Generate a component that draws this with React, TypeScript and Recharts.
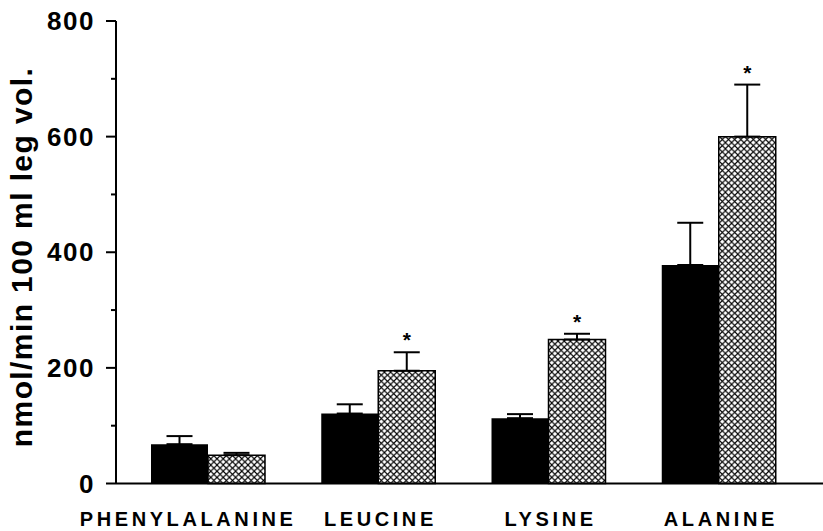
import React from 'react';
import { BarChart, Bar, XAxis, YAxis, ErrorBar, LabelList } from 'recharts';

const categories = ['PHENYLALANINE', 'LEUCINE', 'LYSINE', 'ALANINE'];
const controlValues = [68, 121, 113, 378];
const controlErrors = [14, 16, 7, 73];
const treatedValues = [49, 195, 249, 600];
const treatedErrors = [4, 32, 10, 90];
const significant = [false, true, true, true];
const yTicks = [0, 100, 200, 300, 400, 500, 600, 700, 800];
const yLabel = 'nmol/min 100 ml leg vol.';

const data = categories.map((name, i) => ({
    name,
    control: controlValues[i],
    controlErr: [0, controlErrors[i]],
    treated: treatedValues[i],
    treatedErr: [0, treatedErrors[i]],
}));

const FONT = '"Liberation Sans", Arial, Helvetica, sans-serif';

const YTick = (props: any) => {
    const { x, y, payload } = props;
    const major = payload.value % 200 === 0;
    return (
        <g>
            <line x1={x - (major ? 10 : 5)} x2={x} y1={y} y2={y} stroke="#000" strokeWidth={2} />
            {major && (
                <text x={x - 21} y={y + 9} textAnchor="end" fontFamily={FONT} fontWeight="bold"
                    fontSize={26} letterSpacing={1.5} fill="#000">
                    {payload.value}
                </text>
            )}
        </g>
    );
};

const XTick = (props: any) => {
    const { x, y, payload, index } = props;
    // first label sits a bit left of its bars in the original
    const dx = index === 0 ? -22 : 0;
    return (
        <text x={x + dx + 2} y={y + 42} textAnchor="middle" fontFamily={FONT} fontWeight="bold"
            fontSize={20} letterSpacing={3.6} fill="#000">
            {payload.value}
        </text>
    );
};

const Star = (props: any) => {
    const { x, y, width, height, index } = props;
    if (!significant[index]) return null;
    const errTop = y - (treatedErrors[index] * height) / treatedValues[index];
    return (
        <text x={x + width / 2} y={errTop - 5} textAnchor="middle" fontFamily={FONT}
            fontWeight="bold" fontSize={21} fill="#000">
            *
        </text>
    );
};

export default function App() {
    return (
        <div style={{ position: 'absolute', left: 0, top: 0, background: '#fff' }}>
            <BarChart
                width={823}
                height={531}
                data={data}
                margin={{ top: 21, right: 0, left: 0, bottom: 0 }}
                barGap={0}
            >
                <defs>
                    <pattern id="hatch" patternUnits="userSpaceOnUse" width={6.2} height={6.2}>
                        <rect width={6.2} height={6.2} fill="#fff" />
                        <path d="M0,0 L6.2,6.2 M6.2,0 L0,6.2" stroke="#000" strokeWidth={1.1} strokeLinecap="square" />
                    </pattern>
                </defs>
                <XAxis
                    dataKey="name"
                    height={47.5}
                    padding={{ left: 7, right: 19 }}
                    axisLine={{ stroke: '#000', strokeWidth: 2 }}
                    tickLine={false}
                    tickSize={0}
                    tickMargin={0}
                    tick={<XTick />}
                    interval={0}
                />
                <YAxis
                    width={116}
                    domain={[0, 800]}
                    ticks={yTicks}
                    interval={0}
                    axisLine={{ stroke: '#000', strokeWidth: 2 }}
                    tickLine={false}
                    tickSize={0}
                    tickMargin={0}
                    tick={<YTick />}
                    label={{
                        content: () => (
                            <text transform="translate(32,257) rotate(-90)" textAnchor="middle"
                                fontFamily={FONT} fontWeight="bold" fontSize={30} letterSpacing={1.4} fill="#000">
                                {yLabel}
                            </text>
                        ),
                    }}
                />
                <Bar dataKey="control" fill="#000" barSize={57} isAnimationActive={false}>
                    <ErrorBar dataKey="controlErr" width={13} strokeWidth={2} stroke="#000" direction="y" />
                </Bar>
                <Bar dataKey="treated" fill="url(#hatch)" stroke="#000" strokeWidth={1.5} barSize={57}
                    isAnimationActive={false}>
                    <ErrorBar dataKey="treatedErr" width={13} strokeWidth={2} stroke="#000" direction="y" />
                    <LabelList dataKey="treated" content={<Star />} />
                </Bar>
            </BarChart>
        </div>
    );
}
